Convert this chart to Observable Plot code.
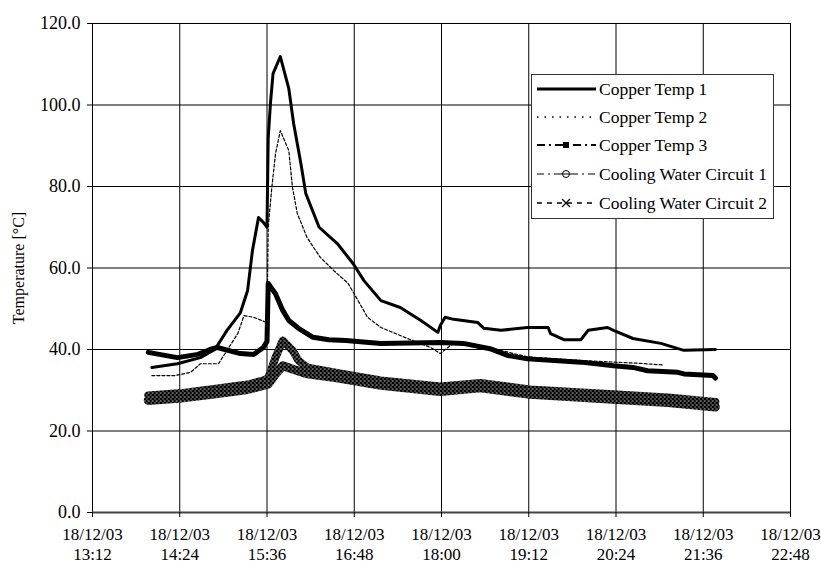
<!DOCTYPE html>
<html>
<head>
<meta charset="utf-8">
<script src="https://cdn.jsdelivr.net/npm/d3@7"></script>
<script src="https://cdn.jsdelivr.net/npm/@observablehq/plot@0.6"></script>
<style>
  body { margin: 0; background: #fff; }
  #chart { width: 821px; height: 565px; }
</style>
</head>
<body>
<svg width="0" height="0" style="position:absolute">
  <defs>
    <pattern id="speck" width="4" height="4" patternUnits="userSpaceOnUse">
      <rect width="4" height="4" fill="#000"></rect>
      <rect x="0" y="0" width="1" height="1" fill="#fff"></rect>
      <rect x="2" y="2" width="1" height="1" fill="#fff"></rect>
      <rect x="3" y="0" width="1" height="1" fill="#888"></rect>
    </pattern>
  </defs>
</svg>
<div id="chart"></div>
<script>
// ---------- DATA ----------
const seriesNames = ["Copper Temp 1", "Copper Temp 2", "Copper Temp 3", "Cooling Water Circuit 1", "Cooling Water Circuit 2"];
const dateLabel = "18/12/03";
const xTickLabels = ["13:12", "14:24", "15:36", "16:48", "18:00", "19:12", "20:24", "21:36", "22:48"];
const yTicks = [0, 20, 40, 60, 80, 100, 120];
const yLabel = "Temperature [°C]";

const copper1Times  = ["14:01","14:22","14:41","14:53","15:03","15:14","15:20","15:24","15:29","15:33","15:36","15:37","15:39","15:41","15:47","15:54","15:58","16:04","16:08","16:19","16:34","16:47","16:56","17:10","17:26","17:43","17:57","17:59","18:03","18:10","18:30","18:35","18:49","19:11","19:28","19:30","19:41","19:55","20:01","20:17","20:22","20:38","21:01","21:20","21:46"];
const copper1Values = [35.6, 36.5, 38.0, 40.0, 44.7, 49.0, 54.5, 64.3, 72.4, 71.2, 70.0, 92.0, 101.0, 107.7, 111.9, 104.0, 95.4, 85.6, 78.3, 70.0, 66.0, 61.1, 56.9, 52.0, 50.3, 47.1, 44.2, 45.9, 47.9, 47.4, 46.6, 45.2, 44.7, 45.4, 45.4, 43.9, 42.4, 42.4, 44.7, 45.4, 44.7, 42.7, 41.5, 39.8, 40.0];

const copper2Times  = ["14:01","14:20","14:33","14:41","14:56","15:12","15:17","15:25","15:36","15:37","15:40","15:43","15:47","15:54","15:57","16:01","16:09","16:20","16:31","16:43","16:59","17:10","17:32","17:51","17:59","18:10","18:40","19:11","19:55","20:44","21:03"];
const copper2Values = [33.6, 33.6, 34.4, 36.5, 36.5, 44.0, 48.3, 47.9, 46.6, 70.0, 79.8, 88.0, 93.7, 88.8, 79.8, 73.4, 67.5, 62.6, 59.4, 56.2, 47.9, 45.4, 42.7, 40.5, 39.0, 41.6, 40.4, 38.2, 37.3, 36.6, 36.2];

const copper3Times  = ["13:58","14:22","14:39","14:49","14:55","15:14","15:25","15:33","15:36","15:37","15:43","15:49","15:54","16:02","16:14","16:27","16:41","17:10","17:59","18:18","18:40","18:55","19:11","19:55","20:22","20:38","20:50","21:15","21:20","21:44","21:46"];
const copper3Values = [39.3, 38.0, 38.8, 40.0, 40.5, 39.0, 38.8, 40.5, 42.0, 56.2, 53.7, 49.6, 47.1, 45.2, 43.0, 42.4, 42.2, 41.5, 41.7, 41.5, 40.2, 38.5, 37.7, 36.9, 36.0, 35.6, 34.8, 34.4, 34.0, 33.6, 33.0];

const circuit1Times  = ["13:58","14:25","14:52","15:20","15:33","15:37","15:43","15:49","15:57","16:02","16:09","16:35","17:10","17:59","18:32","19:13","20:11","21:07","21:46"];
const circuit1Values = [28.7, 29.3, 30.3, 31.4, 32.4, 33.0, 38.0, 42.2, 39.8, 37.3, 35.6, 34.2, 32.4, 30.9, 31.8, 30.2, 29.2, 28.2, 27.1];

const circuit2Times  = ["13:58","14:25","14:52","15:20","15:33","15:37","15:43","15:49","16:08","16:35","17:10","17:59","18:32","19:13","20:11","21:07","21:46"];
const circuit2Values = [27.5, 28.1, 29.1, 30.2, 31.2, 31.5, 34.0, 36.0, 34.1, 33.0, 31.2, 29.7, 30.6, 29.0, 28.0, 27.0, 25.9];

// ---------- BUILD ----------
const toDate = (s) => { const [h, m] = s.split(":").map(Number); return new Date(Date.UTC(2003, 11, 18, h, m)); };
const rows = (times, values) => times.map((t, i) => ({time: toDate(t), value: values[i]}));

const c1 = rows(copper1Times, copper1Values);
const c2 = rows(copper2Times, copper2Values);
const c3 = rows(copper3Times, copper3Values);
const w1 = rows(circuit1Times, circuit1Values);
const w2 = rows(circuit2Times, circuit2Values);
const xTicks = xTickLabels.map(toDate);

const plot = Plot.plot({
  width: 821,
  height: 565,
  marginLeft: 92,
  marginRight: 31,
  marginTop: 23,
  marginBottom: 53,
  x: {type: "utc", domain: [xTicks[0], xTicks[xTicks.length - 1]]},
  y: {domain: [0, 120]},
  style: {fontFamily: "'Liberation Serif', 'Times New Roman', serif", fontSize: "17px", color: "#000", background: "#fff", overflow: "visible"},
  marks: [
    Plot.gridY(yTicks, {stroke: "#000", strokeOpacity: 1, strokeWidth: 1}),
    Plot.gridX(xTicks, {stroke: "#000", strokeOpacity: 1, strokeWidth: 1}),
    Plot.ruleY([0], {stroke: "#444", strokeWidth: 2}),
    Plot.axisY(yTicks, {tickSize: 5, tickPadding: 7, tickFormat: (d) => d.toFixed(1), label: null, fontVariant: "normal", fontSize: 18}),
    Plot.axisX(xTicks, {tickSize: 5, tickPadding: 8, tickFormat: (d) => dateLabel + "\n" + d3.utcFormat("%H:%M")(d), label: null, lineHeight: 1.2, fontVariant: "normal"}),
    Plot.line(w2, {x: "time", y: "value", stroke: "url(#speck)", strokeWidth: 9, strokeLinejoin: "round", strokeLinecap: "round"}),
    Plot.line(w1, {x: "time", y: "value", stroke: "url(#speck)", strokeWidth: 8, strokeLinejoin: "round", strokeLinecap: "round"}),
    Plot.line(c3, {x: "time", y: "value", stroke: "#000", strokeWidth: 5, strokeLinejoin: "round"}),
    Plot.line(c2, {x: "time", y: "value", stroke: "#000", strokeWidth: 1.2, strokeDasharray: "3,2"}),
    Plot.line(c1, {x: "time", y: "value", stroke: "#000", strokeWidth: 3, strokeLinejoin: "round"})
  ]
});

document.getElementById("chart").appendChild(plot);

// y-axis title
const svg = d3.select(plot);
svg.append("text")
  .attr("transform", "translate(18.5,268) rotate(-90)")
  .attr("text-anchor", "middle")
  .attr("dy", "0.35em")
  .attr("font-size", 16)
  .attr("fill", "#000")
  .text(yLabel);

// legend
const lg = svg.append("g").attr("font-size", 17.5).attr("fill", "#000").attr("text-anchor", "start");
lg.append("rect").attr("x", 531.5).attr("y", 74.5).attr("width", 242).attr("height", 144)
  .attr("fill", "#fff").attr("stroke", "#333").attr("stroke-width", 1);
const rowY = [89, 117, 145, 174, 203];
const x0 = 537, x1 = 596, xm = 566;
const sampleStyles = [
  {w: 3, dash: null},
  {w: 1.3, dash: "1.5,6"},
  {w: 2.2, dash: "8,4,2,4"},
  {w: 1, dash: "7,4,2,4"},
  {w: 1.3, dash: "5,5"}
];
seriesNames.forEach((name, i) => {
  const y = rowY[i];
  const s = sampleStyles[i];
  const ln = lg.append("line").attr("x1", x0).attr("x2", x1).attr("y1", y).attr("y2", y)
    .attr("stroke", "#000").attr("stroke-width", s.w);
  if (s.dash) ln.attr("stroke-dasharray", s.dash);
  if (i === 2) lg.append("rect").attr("x", xm - 3).attr("y", y - 3).attr("width", 6).attr("height", 6).attr("fill", "#000");
  if (i === 3) lg.append("circle").attr("cx", xm).attr("cy", y).attr("r", 3.5).attr("fill", "#fff").attr("stroke", "#000").attr("stroke-width", 1);
  if (i === 3) lg.append("line").attr("x1", xm - 5).attr("x2", xm + 5).attr("y1", y).attr("y2", y).attr("stroke", "#000").attr("stroke-width", 1);
  if (i === 4) lg.append("path").attr("d", `M${xm-4},${y-4}L${xm+4},${y+4}M${xm-4},${y+4}L${xm+4},${y-4}`).attr("stroke", "#000").attr("stroke-width", 1.2);
  lg.append("text").attr("x", 599).attr("y", y).attr("dy", "0.35em").attr("text-anchor", "start").text(name);
});
</script>
</body>
</html>
